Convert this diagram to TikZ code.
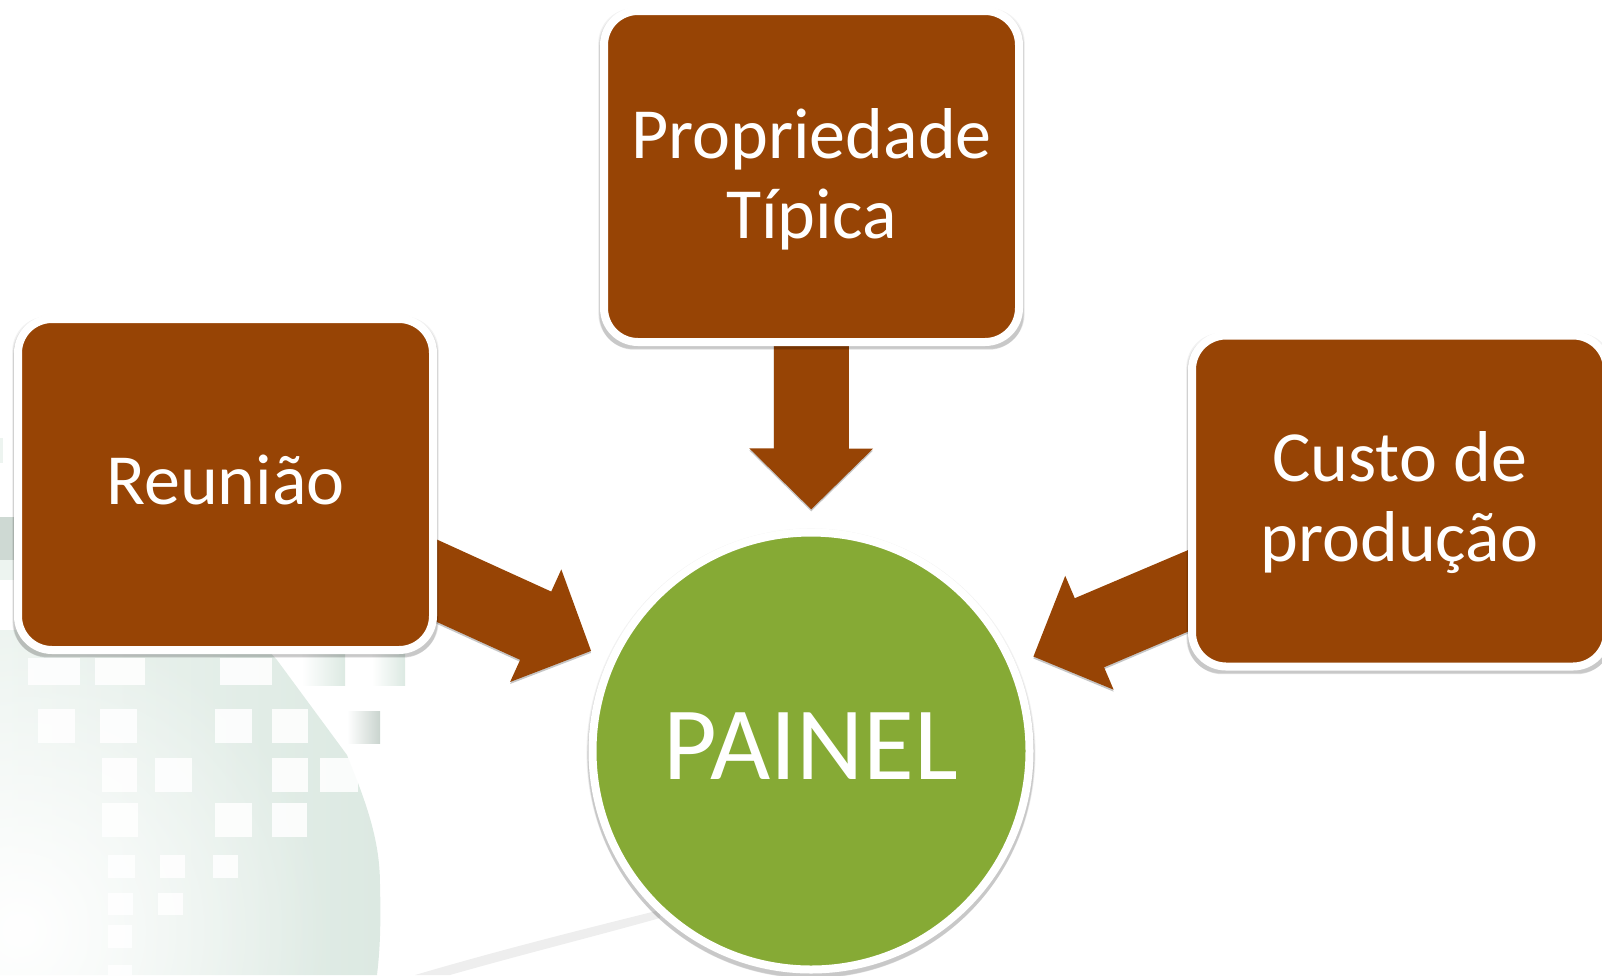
\documentclass[tikz,border=0pt]{standalone}
\usepackage{fontspec}
\setmainfont{Carlito}
\usetikzlibrary{arrows.meta,backgrounds,shadows,fadings}
\definecolor{boxbrown}{HTML}{974405}
\definecolor{circgreen}{HTML}{86AA35}
\definecolor{wmgreen}{HTML}{DCE9E2}
\definecolor{wmpale}{HTML}{EDF4F0}
\definecolor{shadowgray}{HTML}{C6C6C6}
\tikzfading[name=blobfade,inner color=transparent!0,outer color=transparent!100]
\tikzset{
  x=1pt,y=-1pt,
  softshadow/.style={
    general shadow={shadow xshift=0pt,shadow yshift=-2pt,shadow scale=1.028,opacity=.05,fill=black},
    general shadow={shadow xshift=0pt,shadow yshift=-3pt,shadow scale=1.025,opacity=.07,fill=black},
    general shadow={shadow xshift=0pt,shadow yshift=-4pt,shadow scale=1.022,opacity=.11,fill=black}},
  panel/.style={rectangle,rounded corners=34pt,draw=white,line width=8pt,fill=boxbrown,
    minimum width=415pt,minimum height=331pt,inner sep=0pt,outer sep=0pt,text=white,align=center,
    font=\fontsize{72}{80}\selectfont,softshadow},
  hub/.style={circle,draw=white,line width=8pt,fill=circgreen,minimum size=437pt,inner sep=0pt,outer sep=0pt,
    text=white,font=\fontsize{104}{114}\selectfont,softshadow},
  flow/.style={line width=75pt,boxbrown,-{Triangle[length=61pt,width=120pt]},shorten >=23pt},
  flowshade/.style={line width=75pt,shadowgray,-{Triangle[length=61pt,width=120pt]},shorten >=23pt,transform canvas={yshift=-2pt}},
  hole/.style={fill=white,opacity=.88},
}
\begin{document}
\begin{tikzpicture}
\useasboundingbox (0,0) rectangle (1602,975);
\node[panel] (top) at (811.5,176.5) {\raisebox{18.5pt}[0pt][0pt]{\begin{tabular}[t]{@{}c@{}}Propriedade\\Típica\end{tabular}}};
\node[panel] (left) at (225.5,484.5) {\raisebox{-19.5pt}[0pt][0pt]{Reunião}};
\node[panel] (right) at (1399.5,501) {\raisebox{20pt}[0pt][0pt]{\begin{tabular}[t]{@{}c@{}}Custo de\\produção\end{tabular}}};
\node[hub] (painel) at (811,751) {\raisebox{-28pt}[0pt][0pt]{PAINEL}};
\begin{pgfonlayer}{background}
  % watermark
  \shade[left color=wmpale,right color=wmgreen]
    (0,630) -- (250,630) -- (277,660) -- (347,755) -- (358,783)
    .. controls (372,820) and (380,850) .. (380,885) .. controls (381,925) and (380,950) .. (377,975) -- (0,975) -- cycle;
  \fill[white,path fading=blobfade] (-290,620) rectangle (330,1240);
  \fill[wmgreen!85!gray] (0,517) rectangle (14,560);
  \fill[wmpale] (0,560) rectangle (14,580);
  \fill[wmpale] (0,438) rectangle (3,463);
  \foreach \ya/\yb/\xs in {
      658/685/{28/80,95/145,220/272},
      709/743/{38/75,100/137,215/252,272/308},
      758/792/{102/137,155/192,272/308,320/358},
      803/837/{102/138,215/252,272/307},
      855/878/{108/135,160/185,213/238},
      893/915/{108/133,158/183},
      925/948/{108/132},
      965/975/{108/132}}{
    \foreach \xa/\xb in \xs {\fill[hole] (\xa,\ya) rectangle (\xb,\yb);}
  }
  \shade[left color=white,right color=wmgreen] (302,650) rectangle (345,685);
  \shade[left color=white,right color=wmgreen] (372,650) rectangle (405,685);
  \shade[left color=white,right color=wmgreen!80!gray] (347,711) rectangle (380,743);
  \fill[gray!13] (415,975) .. controls (500,950) and (580,930) .. (660,910) -- (660,918) .. controls (600,935) and (520,955) .. (450,975) -- cycle;
  % arrows
  \draw[flowshade] (top.center) -- (painel);
  \draw[flowshade] (left.center) -- (painel);
  \draw[flowshade] (right.center) -- (painel);
  \draw[flow] (top.center) -- (painel);
  \draw[flow] (left.center) -- (painel);
  \draw[flow] (right.center) -- (painel);
\end{pgfonlayer}
\end{tikzpicture}
\end{document}
